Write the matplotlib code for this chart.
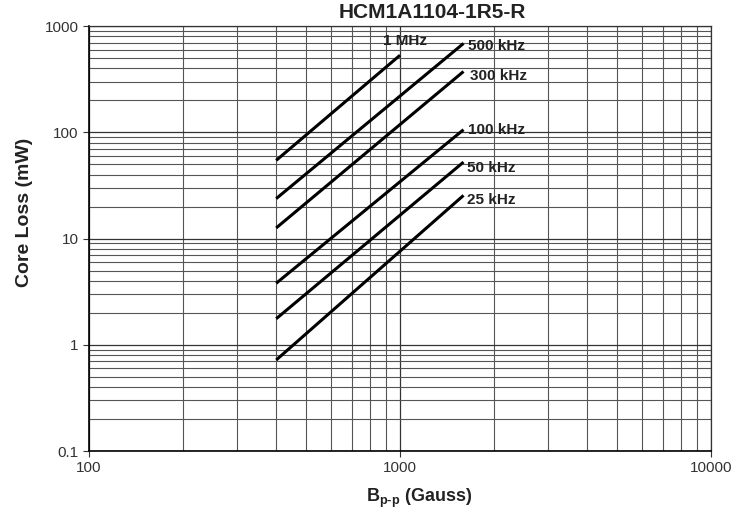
import numpy as np
import matplotlib
matplotlib.use("Agg")
import matplotlib.pyplot as plt
from matplotlib.ticker import LogLocator, FuncFormatter, NullFormatter

plt.rcParams['font.family'] = ['Liberation Sans', 'DejaVu Sans']
plt.rcParams['mathtext.fontset'] = 'custom'
plt.rcParams['mathtext.rm'] = 'Liberation Sans:bold'
plt.rcParams['mathtext.it'] = 'Liberation Sans:bold'
plt.rcParams['mathtext.bf'] = 'Liberation Sans:bold'

TITLE = "HCM1A1104-1R5-R"

# curves: frequency label, flux density (Gauss) endpoints, core loss (mW) endpoints
freq_labels = ["1 MHz", "500 kHz", "300 kHz", "100 kHz", "50 kHz", "25 kHz"]
b_start = [400, 400, 400, 400, 400, 400]
b_end = [1000, 1600, 1600, 1600, 1600, 1600]
loss_start = [54.5, 23.8, 12.6, 3.8, 1.76, 0.72]
loss_end = [532, 687, 374, 106, 52.5, 25.5]

# label offsets from curve end, in pixels (layout only)
label_dx = [5, 4, 6, 4, 3, 3]
label_dy = [14, -3, -5, 0, -6, -5]

fig = plt.figure(figsize=(7.47, 5.12), dpi=100)
ax = fig.add_axes((0.119, 0.119, 0.833, 0.830))

ax.set_xscale('log')
ax.set_yscale('log')
ax.set_xlim(100, 10000)
ax.set_ylim(0.1, 1000)

for i, lab in enumerate(freq_labels):
    ax.plot([b_start[i], b_end[i]], [loss_start[i], loss_end[i]], color='black',
            lw=2.2, solid_capstyle='butt', zorder=3)
    if i == 0:
        ax.annotate(lab, (b_end[i], loss_end[i]), xytext=(label_dx[i], label_dy[i]),
                    textcoords='offset pixels', ha='center', va='center',
                    fontsize=11, fontweight='bold', color='#222222')
    else:
        ax.annotate(lab, (b_end[i], loss_end[i]), xytext=(label_dx[i], label_dy[i]),
                    textcoords='offset pixels', ha='left', va='center',
                    fontsize=11, fontweight='bold', color='#222222')

ax.xaxis.set_major_locator(LogLocator(base=10, numticks=10))
ax.yaxis.set_major_locator(LogLocator(base=10, numticks=10))
ax.xaxis.set_minor_locator(LogLocator(base=10, subs=np.arange(2, 10), numticks=20))
ax.yaxis.set_minor_locator(LogLocator(base=10, subs=np.arange(2, 10), numticks=20))
ax.xaxis.set_minor_formatter(NullFormatter())
ax.yaxis.set_minor_formatter(NullFormatter())
fmt = FuncFormatter(lambda v, p: '{:g}'.format(v))
ax.xaxis.set_major_formatter(fmt)
ax.yaxis.set_major_formatter(fmt)

ax.grid(True, which='major', color='#333333', lw=0.9)
ax.grid(True, which='minor', color='#555555', lw=0.8)
ax.tick_params(which='minor', length=0)
ax.tick_params(which='major', length=4, width=0.8, direction='out',
               labelsize=11, colors='#333333', labelcolor='#333333')

for side in ['top', 'right']:
    ax.spines[side].set_color('#333333')
    ax.spines[side].set_linewidth(0.9)
for side in ['left', 'bottom']:
    ax.spines[side].set_color('black')
    ax.spines[side].set_linewidth(1.2)

fig.text(432 / 747, 1 - 12 / 512, TITLE, ha='center', va='center', fontsize=15,
         fontweight='bold', color='#222222')

ax.set_ylabel('Core Loss (mW)', fontsize=14, fontweight='bold', color='#222222', va='center')
ax.yaxis.set_label_coords(-0.104, 0.561)
ax.set_xlabel(r'B$_{\rm p\text{-}p}$ (Gauss)', fontsize=13, fontweight='bold',
              color='#222222', va='baseline')
ax.xaxis.set_label_coords(0.5305, -0.12)

fig.savefig('out.png', dpi=100)
